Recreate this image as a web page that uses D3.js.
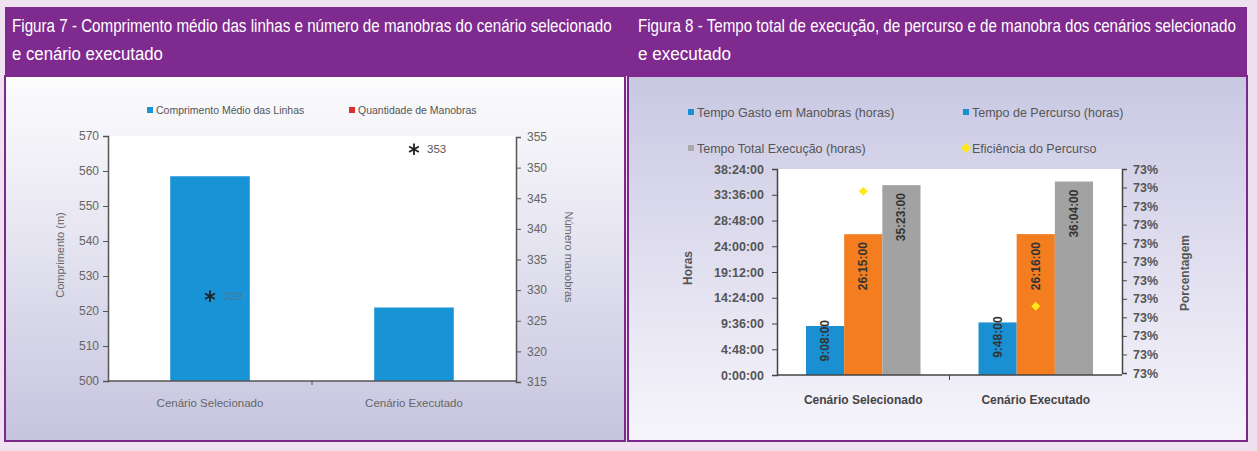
<!DOCTYPE html>
<html>
<head>
<meta charset="utf-8">
<script src="https://cdn.jsdelivr.net/npm/d3@7"></script>
<style>
  body { margin: 0; background: #efe1ef; }
  svg { display: block; }
  text { font-family: "Liberation Sans", Arial, sans-serif; }
  .head { font-family: "Liberation Sans", Arial, sans-serif; fill: #fff; font-size: 18px; }
</style>
</head>
<body>
<div id="vis"></div>
<script>
// Figura 7 data
const categories = ['Cenário Selecionado', 'Cenário Executado'];
const comprimentoMedio = [558.5, 521];
const quantidadeManobras = [329, 353];
const comprimentoTicks = [500, 510, 520, 530, 540, 550, 560, 570];
const manobrasTicks = [315, 320, 325, 330, 335, 340, 345, 350, 355];

// Figura 8 data
const tempoManobras = ['9:08:00', '9:48:00'];
const tempoPercurso = ['26:15:00', '26:16:00'];
const tempoTotal = ['35:23:00', '36:04:00'];
const eficiencia = [0.7314, 0.7283];
const horasTicks = ['0:00:00', '4:48:00', '9:36:00', '14:24:00', '19:12:00', '24:00:00', '28:48:00', '33:36:00', '38:24:00'];
const porcentTicks = [0.7265, 0.727, 0.7275, 0.728, 0.7285, 0.729, 0.7295, 0.73, 0.7305, 0.731, 0.7315, 0.732];

function toHours(s) {
  const p = s.split(':').map(Number);
  return p[0] + p[1] / 60 + p[2] / 3600;
}

const svg = d3.select('#vis')
  .append('svg')
  .attr('width', 1257)
  .attr('height', 451);

const defs = svg.append('defs');
const g1 = defs.append('linearGradient').attr('id', 'bgLeft').attr('x1', 0).attr('y1', 0).attr('x2', 0).attr('y2', 1);
g1.append('stop').attr('offset', '0%').attr('stop-color', '#fcfcfd');
g1.append('stop').attr('offset', '30%').attr('stop-color', '#eeedf5');
g1.append('stop').attr('offset', '100%').attr('stop-color', '#c5c4df');
const g2 = defs.append('linearGradient').attr('id', 'bgRight').attr('x1', 0).attr('y1', 0).attr('x2', 0).attr('y2', 1);
g2.append('stop').attr('offset', '0%').attr('stop-color', '#c9c8e3');
g2.append('stop').attr('offset', '100%').attr('stop-color', '#f7f5fb');

// panels
svg.append('rect').attr('x', 5).attr('y', 76).attr('width', 620).attr('height', 365)
  .attr('fill', 'url(#bgLeft)').attr('stroke', '#7b2a8c').attr('stroke-width', 2);
svg.append('rect').attr('x', 628).attr('y', 76).attr('width', 619).attr('height', 365)
  .attr('fill', 'url(#bgRight)').attr('stroke', '#7b2a8c').attr('stroke-width', 2);

// header band
svg.append('rect').attr('x', 5).attr('y', 7).attr('width', 1242).attr('height', 69).attr('fill', '#7f2a8f');
const heads = [
  { t: 'Figura 7 - Comprimento médio das linhas e número de manobras do cenário selecionado', x: 12, y: 32, w: 600 },
  { t: 'e cenário executado', x: 12, y: 60, w: 151 },
  { t: 'Figura 8 - Tempo total de execução, de percurso e de manobra dos cenários selecionado', x: 638, y: 32, w: 598 },
  { t: 'e executado', x: 638, y: 60, w: 93 }
];
// narrow look: squeeze each line horizontally to the width seen in the picture
svg.selectAll('.head')
  .data(heads)
  .enter()
  .append('text')
  .attr('class', 'head')
  .text(d => d.t)
  .attr('transform', function (d) {
    const len = this.getComputedTextLength();
    return `translate(${d.x},${d.y}) scale(${d.w / len},1)`;
  });

// ---------- Figura 7 ----------
const x1 = d3.scaleBand().domain(categories).range([108, 516]);
const yComp = d3.scaleLinear().domain([500, 570]).range([381, 136]);
const yMan = d3.scaleLinear().domain([315, 355]).range([382, 137]);

svg.append('rect').attr('x', 108).attr('y', 136).attr('width', 408).attr('height', 245).attr('fill', '#fff');

const barW1 = x1.bandwidth() * 0.39;
svg.selectAll('.barComp')
  .data(comprimentoMedio)
  .enter()
  .append('rect')
  .attr('class', 'barComp')
  .attr('x', (d, i) => x1(categories[i]) + (x1.bandwidth() - barW1) / 2)
  .attr('y', d => yComp(d))
  .attr('width', barW1)
  .attr('height', d => yComp(500) - yComp(d))
  .attr('fill', '#1893d5');

const ax1 = svg.append('g').attr('transform', 'translate(108,0)')
  .call(d3.axisLeft(yComp).tickValues(comprimentoTicks).tickSize(5).tickPadding(4));
const ax2 = svg.append('g').attr('transform', 'translate(516,0)')
  .call(d3.axisRight(yMan).tickValues(manobrasTicks).tickSize(5).tickPadding(6));
[ax1, ax2].forEach(a => {
  a.select('.domain').attr('stroke', '#555').attr('stroke-width', 1.5);
  a.selectAll('line').attr('stroke', '#555');
  a.selectAll('text').attr('fill', '#666').style('font-size', '12px');
});

// bottom axis line + middle tick
svg.append('line').attr('x1', 108).attr('x2', 516).attr('y1', 381).attr('y2', 381)
  .attr('stroke', '#555').attr('stroke-width', 1.5);
svg.selectAll('.xtick1')
  .data(categories.slice(1))
  .enter()
  .append('line')
  .attr('x1', d => x1(d)).attr('x2', d => x1(d))
  .attr('y1', 381).attr('y2', 385)
  .attr('stroke', '#555');
svg.selectAll('.xlab1')
  .data(categories)
  .enter()
  .append('text')
  .attr('x', d => x1(d) + x1.bandwidth() / 2)
  .attr('y', 407)
  .attr('text-anchor', 'middle')
  .attr('fill', '#666')
  .style('font-size', '11.5px')
  .text(d => d);

// asterisks for manobras
svg.selectAll('.star')
  .data(quantidadeManobras)
  .enter()
  .append('path')
  .attr('d', d3.symbol(d3.symbolAsterisk, 90))
  .attr('transform', (d, i) => `translate(${x1(categories[i]) + x1.bandwidth() / 2},${yMan(d)})`)
  .attr('fill', 'none')
  .attr('stroke', '#222')
  .attr('stroke-width', 1.8);
svg.selectAll('.starLab')
  .data(quantidadeManobras)
  .enter()
  .append('text')
  .attr('x', (d, i) => x1(categories[i]) + x1.bandwidth() / 2 + 13)
  .attr('y', d => yMan(d) + 4)
  .attr('fill', (d, i) => i === 0 ? '#4a7898' : '#555')
  .style('font-size', '11.5px')
  .text(d => d);

// axis titles
svg.append('text').attr('transform', 'translate(64,255) rotate(-90)')
  .attr('text-anchor', 'middle').attr('fill', '#666').style('font-size', '11px').text('Comprimento (m)');
svg.append('text').attr('transform', 'translate(565,257) rotate(90)')
  .attr('text-anchor', 'middle').attr('fill', '#666').style('font-size', '11px').text('Número manobras');

// legend
const leg1 = [
  { name: 'Comprimento Médio das Linhas', color: '#1893d5', x: 147 },
  { name: 'Quantidade de Manobras', color: '#d93030', x: 349 }
];
svg.selectAll('.leg1sq').data(leg1).enter().append('rect')
  .attr('x', d => d.x).attr('y', 107).attr('width', 6).attr('height', 6).attr('fill', d => d.color);
svg.selectAll('.leg1tx').data(leg1).enter().append('text')
  .attr('x', d => d.x + 9).attr('y', 113.5).attr('fill', '#555').style('font-size', '10.5px').text(d => d.name);

// ---------- Figura 8 ----------
const x2 = d3.scaleBand().domain(categories).range([777, 1122]);
const keys = ['manobras', 'percurso', 'total'];
const colors = { manobras: '#1a90d2', percurso: '#f47d1f', total: '#a2a2a2' };
const xIn = d3.scaleBand().domain(keys).range([29, x2.bandwidth() - 29]);
const yH = d3.scaleLinear().domain([0, toHours('38:24:00')]).range([375, 169]);
const yP = d3.scaleLinear().domain([0.7265, 0.732]).range([373, 169]);

svg.append('rect').attr('x', 777).attr('y', 169).attr('width', 345).attr('height', 206).attr('fill', '#fff');

const rows = categories.map((c, i) => ({
  cat: c,
  manobras: tempoManobras[i],
  percurso: tempoPercurso[i],
  total: tempoTotal[i]
}));

const grp = svg.selectAll('.grp')
  .data(rows)
  .enter()
  .append('g')
  .attr('transform', d => `translate(${x2(d.cat)},0)`);

grp.selectAll('rect')
  .data(d => keys.map(k => ({ key: k, label: d[k], v: toHours(d[k]) })))
  .enter()
  .append('rect')
  .attr('x', d => xIn(d.key))
  .attr('y', d => yH(d.v))
  .attr('width', xIn.bandwidth())
  .attr('height', d => yH(0) - yH(d.v))
  .attr('fill', d => colors[d.key]);

grp.selectAll('.vlab')
  .data(d => keys.map(k => ({ key: k, label: d[k], v: toHours(d[k]) })))
  .enter()
  .append('text')
  .attr('transform', d => {
    const cx = xIn(d.key) + xIn.bandwidth() / 2 + 4;
    const h = yH(0) - yH(d.v);
    const y = h > 70 ? yH(d.v) + 8 : yH(d.v) - 6;
    return `translate(${cx},${y}) rotate(-90)`;
  })
  .attr('text-anchor', 'end')
  .attr('fill', '#333')
  .style('font-size', '12px')
  .style('font-weight', 'bold')
  .text(d => d.label);

// efficiency diamonds (square turned 45 degrees)
svg.selectAll('.dia')
  .data(eficiencia)
  .enter()
  .append('path')
  .attr('d', d3.symbol(d3.symbolSquare, 40))
  .attr('transform', (d, i) => `translate(${x2(categories[i]) + x2.bandwidth() / 2},${yP(d)}) rotate(45)`)
  .attr('fill', '#ffe81a');

const ax3 = svg.append('g').attr('transform', 'translate(777,0)')
  .call(d3.axisLeft(yH).tickValues(horasTicks.map(toHours)).tickFormat((d, i) => horasTicks[i]).tickSize(5).tickPadding(8));
const ax4 = svg.append('g').attr('transform', 'translate(1122,0)')
  .call(d3.axisRight(yP).tickValues(porcentTicks).tickFormat(d3.format('.0%')).tickSize(5).tickPadding(6));
[ax3, ax4].forEach(a => {
  a.select('.domain').attr('stroke', '#444').attr('stroke-width', 1.5);
  a.selectAll('line').attr('stroke', '#444');
  a.selectAll('text').attr('fill', '#555').style('font-size', '12.5px').style('font-weight', 'bold');
});

svg.append('line').attr('x1', 777).attr('x2', 1122).attr('y1', 375).attr('y2', 375)
  .attr('stroke', '#444').attr('stroke-width', 1.5);
svg.selectAll('.xtick2')
  .data(categories.slice(1))
  .enter()
  .append('line')
  .attr('x1', d => x2(d)).attr('x2', d => x2(d))
  .attr('y1', 375).attr('y2', 380)
  .attr('stroke', '#444');
svg.selectAll('.xlab2')
  .data(categories)
  .enter()
  .append('text')
  .attr('x', d => x2(d) + x2.bandwidth() / 2)
  .attr('y', 404)
  .attr('text-anchor', 'middle')
  .attr('fill', '#444')
  .style('font-size', '12px')
  .style('font-weight', 'bold')
  .text(d => d);

svg.append('text').attr('transform', 'translate(692,268) rotate(-90)')
  .attr('text-anchor', 'middle').attr('fill', '#555').style('font-size', '12px').style('font-weight', 'bold').text('Horas');
svg.append('text').attr('transform', 'translate(1189,273) rotate(-90)')
  .attr('text-anchor', 'middle').attr('fill', '#555').style('font-size', '12px').style('font-weight', 'bold').text('Porcentagem');

// legend (as in the original, both first entries carry a blue key)
const leg2 = [
  { name: 'Tempo Gasto em Manobras (horas)', color: '#1a90d2', x: 688, y: 112, shape: 'sq' },
  { name: 'Tempo de Percurso (horas)', color: '#1a90d2', x: 963, y: 112, shape: 'sq' },
  { name: 'Tempo Total Execução (horas)', color: '#a9a9a9', x: 688, y: 148, shape: 'sq' },
  { name: 'Eficiência do Percurso', color: '#ffe81a', x: 963, y: 148, shape: 'dia' }
];
svg.selectAll('.leg2sq').data(leg2).enter().append('path')
  .attr('d', d => d3.symbol(d3.symbolSquare, d.shape === 'dia' ? 50 : 36)())
  .attr('transform', d => `translate(${d.x + 3},${d.y})` + (d.shape === 'dia' ? ' rotate(45)' : ''))
  .attr('fill', d => d.color);
svg.selectAll('.leg2tx').data(leg2).enter().append('text')
  .attr('x', d => d.x + 9).attr('y', d => d.y + 4.5).attr('fill', '#555').style('font-size', '12.5px').text(d => d.name);
</script>
</body>
</html>
